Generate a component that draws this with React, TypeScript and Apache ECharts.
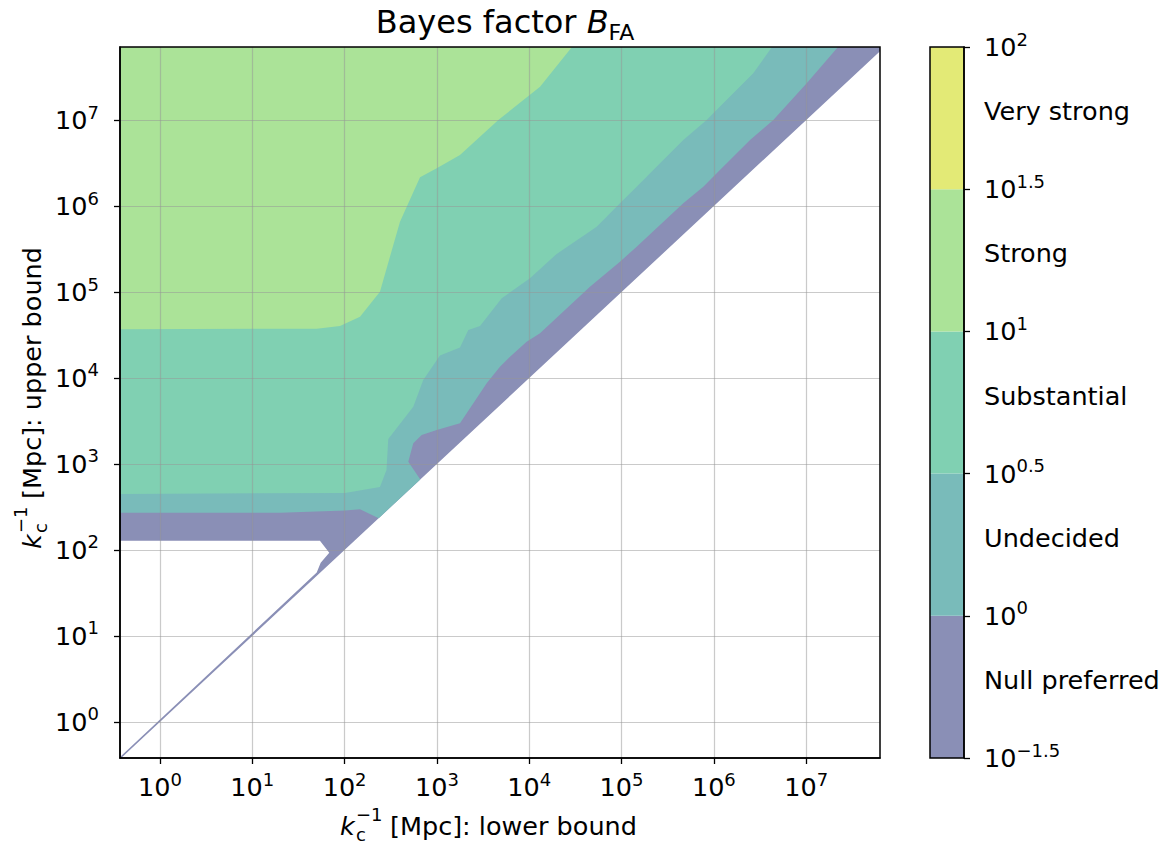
import React, { useEffect, useRef } from 'react';
import * as echarts from 'echarts';

const FONT = 'DejaVu Sans';

// axis extents in log10 units
const X_RANGE = [-0.433, 7.8];
const Y_RANGE = [-0.42, 7.85];
const DECADES = [0, 1, 2, 3, 4, 5, 6, 7];

// colour bar
const CATEGORIES = ['Null preferred', 'Undecided', 'Substantial', 'Strong', 'Very strong'];
const LEVEL_EXPONENTS = ['−1.5', '0', '0.5', '1', '1.5', '2'];
const LEVEL_POSITIONS = [0, 1, 2, 3, 4, 5];
const COLORS = ['#8a8fb6', '#79bbba', '#80d0b2', '#abe398', '#e3ea76'];

// filled contour regions (log10 lower bound, log10 upper bound), B >= level
const NULL_REGION = [
  [-0.433, 7.85], [7.8, 7.85], [7.8, 7.8], [-0.433, -0.433], [-0.433, -0.408],
  [1.698, 1.738], [1.741, 1.852], [1.834, 1.968], [1.733, 2.108], [-0.433, 2.108],
];
const UNDECIDED_REGION = [
  [-0.433, 7.85], [7.345, 7.85], [7.006, 7.428], [6.644, 7.001], [6.392, 6.768],
  [6.031, 6.381], [5.886, 6.225], [5.669, 6.032], [5.164, 5.527], [4.983, 5.353],
  [4.658, 5.062], [4.117, 4.52], [3.972, 4.422], [3.792, 4.248], [3.683, 4.132],
  [3.539, 3.939], [3.467, 3.822], [3.25, 3.473], [2.998, 3.395], [2.835, 3.337],
  [2.744, 3.241], [2.69, 3.027], [2.82, 2.82], [2.37, 2.37], [2.167, 2.473],
  [2.004, 2.459], [1.3, 2.433], [-0.433, 2.433],
];
const SUBSTANTIAL_REGION = [
  [-0.433, 7.85], [6.63, 7.85], [6.427, 7.545], [6.102, 7.196], [5.922, 7.002],
  [5.669, 6.769], [5.452, 6.537], [5.164, 6.225], [4.983, 6.032], [4.731, 5.76],
  [4.297, 5.443], [4.008, 5.16], [3.702, 4.927], [3.467, 4.605], [3.34, 4.559],
  [3.25, 4.355], [3.033, 4.262], [2.852, 3.977], [2.744, 3.666], [2.473, 3.291],
  [2.454, 2.93], [2.383, 2.732], [2.004, 2.663], [-0.433, 2.651],
];
const STRONG_REGION = [
  [-0.433, 7.85], [4.463, 7.85], [4.117, 7.389], [3.665, 7.001], [3.25, 6.594],
  [2.998, 6.44], [2.817, 6.335], [2.6, 5.818], [2.383, 5.004], [2.167, 4.713],
  [1.95, 4.605], [1.698, 4.574], [-0.433, 4.567],
];
const REGIONS = [NULL_REGION, UNDECIDED_REGION, SUBSTANTIAL_REGION, STRONG_REGION];

const LABEL_SIZE = 25.5;
const SUP_SIZE = 18;

const powRich = {
  b: { fontSize: LABEL_SIZE, fontFamily: FONT, color: '#000', lineHeight: 34 },
  s: { fontSize: SUP_SIZE, fontFamily: FONT, color: '#000', lineHeight: 18, verticalAlign: 'top' },
};

const powLabel = (exp: string) => `{b|10}{s|${exp}}`;

const axisTitle = (x: number, y: number, rotation: number, rest: string) => ({
  type: 'group', x, y, rotation,
  children: [
    { type: 'text', x: 0, y: 0, style: { text: 'k', fontSize: LABEL_SIZE, fontStyle: 'italic', fontFamily: FONT, fill: '#000', verticalAlign: 'middle' } },
    { type: 'text', x: 16, y: -1.5, style: { text: '−1\nc', fontSize: SUP_SIZE, lineHeight: 20, fontFamily: FONT, fill: '#000', verticalAlign: 'middle' } },
    { type: 'text', x: 50, y: 0, style: { text: rest, fontSize: LABEL_SIZE, fontFamily: FONT, fill: '#000', verticalAlign: 'middle' } },
  ],
});

export default function App() {
  const ref = useRef<HTMLDivElement>(null);

  useEffect(() => {
    if (!ref.current) return;
    const chart = echarts.init(ref.current, undefined, { renderer: 'svg' });

    const gridLine = { show: true, lineStyle: { color: 'rgba(150,150,150,0.5)', width: 1.2 } };
    const tick = { show: true, inside: false, length: 6, lineStyle: { color: '#000', width: 1.3 } };
    const line = { show: true, onZero: false, lineStyle: { color: '#000', width: 1.5 } };

    const option: any = {
      animation: false,
      backgroundColor: '#fff',
      grid: [
        { left: 120, top: 47, width: 760, height: 711, show: true, borderColor: '#000', borderWidth: 1.5, backgroundColor: 'transparent', z: 10 },
        { left: 930, top: 47, width: 34, height: 711, show: true, borderColor: '#000', borderWidth: 1.5, backgroundColor: 'transparent', z: 10 },
      ],
      xAxis: [
        {
          type: 'value', gridIndex: 0, min: X_RANGE[0], max: X_RANGE[1], z: 5, position: 'bottom',
          axisLine: line,
          axisTick: { ...tick, customValues: DECADES },
          axisLabel: {
            customValues: DECADES, margin: 12,
            formatter: (v: number) => powLabel(String(Math.round(v))), rich: powRich,
          },
          splitLine: gridLine,
        },
        { type: 'value', gridIndex: 1, min: 0, max: 1, show: false },
      ],
      yAxis: [
        {
          type: 'value', gridIndex: 0, min: Y_RANGE[0], max: Y_RANGE[1], z: 5, position: 'left',
          axisLine: line,
          axisTick: { ...tick, customValues: DECADES },
          axisLabel: {
            customValues: DECADES, margin: 21,
            formatter: (v: number) => powLabel(String(Math.round(v))), rich: powRich,
          },
          splitLine: gridLine,
        },
        {
          type: 'category', gridIndex: 1, position: 'right', data: CATEGORIES, z: 5,
          axisLine: { show: false, onZero: false }, axisTick: { show: false },
          axisLabel: {
            margin: 20, align: 'left',
            formatter: (v: string) => `{t|${v}}`,
            rich: { t: { fontSize: LABEL_SIZE, fontFamily: FONT, color: '#000', padding: [0, 0, 14, 0] } },
          },
        },
        {
          type: 'value', gridIndex: 1, position: 'right', min: 0, max: 5, z: 5,
          axisLine: line, splitLine: { show: false },
          axisTick: { ...tick, customValues: LEVEL_POSITIONS },
          axisLabel: {
            customValues: LEVEL_POSITIONS, margin: 20, align: 'left',
            formatter: (v: number) => powLabel(LEVEL_EXPONENTS[Math.round(v)]), rich: powRich,
          },
        },
      ],
      series: [
        {
          type: 'custom', xAxisIndex: 0, yAxisIndex: 0, clip: true,
          data: REGIONS.map((_, i) => [0, 0, i]),
          renderItem: (params: any, api: any) => {
            const i = params.dataIndex;
            return {
              type: 'polygon',
              shape: { points: REGIONS[i].map((p) => api.coord(p)) },
              style: { fill: COLORS[i] },
            };
          },
          z: 2,
        },
        {
          type: 'bar', xAxisIndex: 1, yAxisIndex: 1, barWidth: '100%', barCategoryGap: '0%',
          data: CATEGORIES.map((_, i) => ({ value: 1, itemStyle: { color: COLORS[i] } })),
        },
      ],
      graphic: [
        {
          type: 'text', x: 505, y: 22,
          style: {
            text: '{a|Bayes factor }{b|B}{c|FA}', align: 'center', verticalAlign: 'middle',
            rich: {
              a: { fontSize: 32, fontFamily: FONT, color: '#000', lineHeight: 42 },
              b: { fontSize: 32, fontFamily: FONT, fontStyle: 'italic', color: '#000', lineHeight: 42 },
              c: { fontSize: 22, fontFamily: FONT, color: '#000', lineHeight: 22, verticalAlign: 'bottom' },
            },
          },
        },
        axisTitle(340, 826, 0, '[Mpc]: lower bound'),
        axisTitle(32, 549, Math.PI / 2, '[Mpc]: upper bound'),
      ],
    };

    chart.setOption(option);
    return () => chart.dispose();
  }, []);

  return <div ref={ref} style={{ width: 1175, height: 847, position: 'absolute', left: 0, top: 0 }} />;
}
